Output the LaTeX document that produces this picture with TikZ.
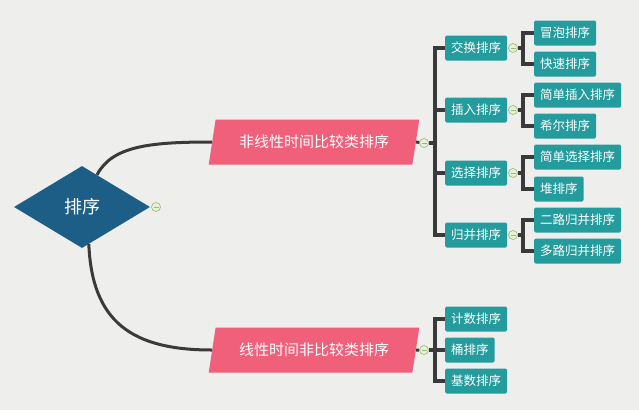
\documentclass[tikz,border=0pt]{standalone}
\usepackage{fontspec}
\setmainfont{Noto Sans CJK SC}
\usetikzlibrary{shapes.geometric,calc}

\definecolor{bgpaper}{RGB}{238,238,236}
\definecolor{rootblue}{RGB}{28,94,134}
\definecolor{catpink}{RGB}{240,96,122}
\definecolor{sortteal}{RGB}{36,156,158}
\definecolor{linkgray}{RGB}{58,58,58}
\definecolor{foldfill}{RGB}{232,240,214}
\definecolor{folddraw}{RGB}{150,186,120}

\begin{document}
\begin{tikzpicture}[x=1pt, y=-1pt,
  root/.style={diamond, fill=rootblue, text=white, inner sep=0pt, minimum width=136pt, minimum height=82pt, font=\fontsize{18}{20}\selectfont},
  cat/.style={trapezium, trapezium left angle=75, trapezium right angle=105, trapezium stretches=true, fill=catpink, text=white, minimum width=211pt, minimum height=45pt, font=\fontsize{15}{18}\selectfont},
  sort/.style={fill=sortteal, text=white, rounded corners=1.5pt, inner xsep=6pt, inner ysep=0pt, minimum height=25pt, anchor=west, font=\fontsize{12.5}{14}\selectfont},
  fold/.style={circle, draw=folddraw, fill=foldfill, minimum size=9pt, inner sep=0pt, line width=0.6pt,
    path picture={\draw[folddraw, line width=0.6pt] ([xshift=-2.5pt]path picture bounding box.center) -- ([xshift=2.5pt]path picture bounding box.center);}},
  link/.style={draw=linkgray, line width=3pt},
  bar/.style={draw=linkgray, line width=3.5pt}
]
\fill[bgpaper] (0,0) rectangle (639,410);
\useasboundingbox (0,0) rectangle (639,410);

% root and the two classes
\node[root] (root) at (82,207) {排序};
\node[fold] (froot) at (156,207) {};
\node[cat] (nonlin) at (314,142) {非线性时间比较类排序};
\node[fold] (fnonlin) at (424,143) {};
\node[cat] (lin) at (314,350) {线性时间非比较类排序};
\node[fold] (flin) at (424,350) {};

\draw[link] ($(root.north)!0.22!(root.east)$) .. controls (112,146) and (150,142) .. (nonlin.west);
\draw[link] ($(root.south)!0.1!(root.east)$) .. controls (92,322) and (132,350) .. (lin.west);

% comparison sorts
\node[sort] (swap) at (445,48) {交换排序};
\node[sort] (insert) at (445,110) {插入排序};
\node[sort] (select) at (445,173) {选择排序};
\node[sort] (merge) at (445,235) {归并排序};
\node[fold] (fswap) at (513,48) {};
\node[fold] (finsert) at (513,110) {};
\node[fold] (fselect) at (513,173) {};
\node[fold] (fmerge) at (513,235) {};

\node[sort] (bubble) at (534,33) {冒泡排序};
\node[sort] (quick) at (534,64) {快速排序};
\node[sort] (insdirect) at (534,95) {简单插入排序};
\node[sort] (shell) at (534,126) {希尔排序};
\node[sort] (seldirect) at (534,157) {简单选择排序};
\node[sort] (heap) at (534,189) {堆排序};
\node[sort] (merge2) at (534,220) {二路归并排序};
\node[sort] (mergek) at (534,251) {多路归并排序};

% non-comparison sorts
\node[sort] (count) at (445,319) {计数排序};
\node[sort] (bucket) at (445,350) {桶排序};
\node[sort] (radix) at (445,381) {基数排序};

\coordinate (jnonlin) at (435,143);
\coordinate (jlin) at (435,350);
\coordinate (jswap) at (523,48);
\coordinate (jinsert) at (523,110);
\coordinate (jselect) at (523,173);
\coordinate (jmerge) at (523,235);

\draw[link] (nonlin.east) -- (fnonlin);
\draw[link] (lin.east) -- (flin);
\draw[bar] (fnonlin) -- (jnonlin);
\draw[bar] (flin) -- (jlin);
\foreach \n in {swap,insert,select,merge}
  \draw[bar] (jnonlin) |- (\n.west);
\foreach \n in {count,bucket,radix}
  \draw[bar] (jlin) |- (\n.west);

\foreach \p/\a/\b in {swap/bubble/quick, insert/insdirect/shell, select/seldirect/heap, merge/merge2/mergek} {
  \draw[bar] (f\p) -- (j\p);
  \draw[bar] (j\p) |- (\a.west);
  \draw[bar] (j\p) |- (\b.west);
}
\end{tikzpicture}
\end{document}
